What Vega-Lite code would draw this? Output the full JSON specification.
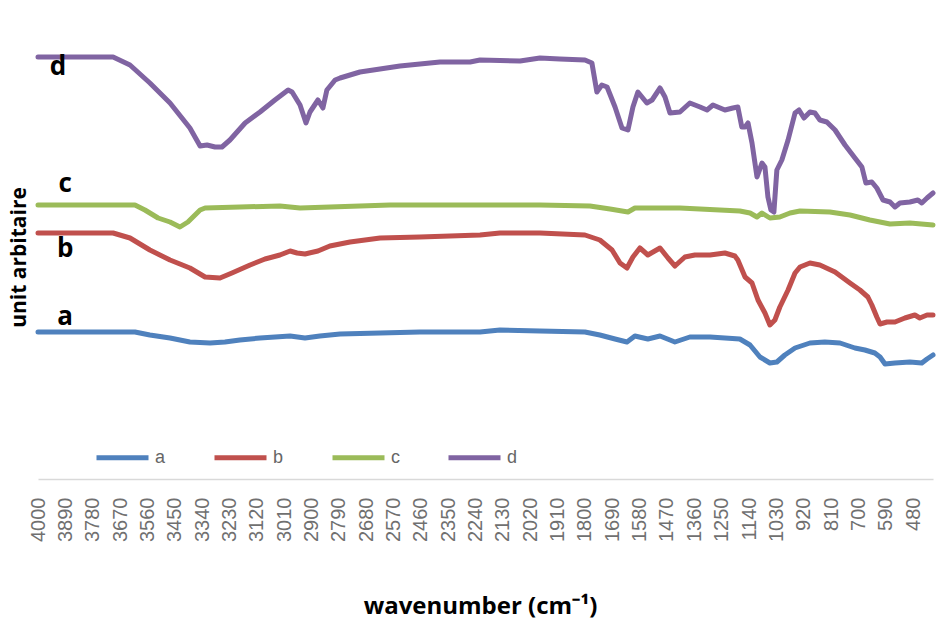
{
  "$schema": "https://vega.github.io/schema/vega-lite/v6.json",
  "autosize": {"type": "none"},
  "padding": {"left": 38, "top": 10, "right": 17, "bottom": 142},
  "width": 895,
  "height": 469,
  "background": "white",
  "config": {"view": {"stroke": null}, "axis": {"labelOverlap": false}},
  "datasets": {
    "spectra": [
      {"s":"d","wn":4000,"v":422},{"s":"d","wn":3698,"v":422},{"s":"d","wn":3630,"v":414},{"s":"d","wn":3550,"v":396},{"s":"d","wn":3469,"v":376},{"s":"d","wn":3389,"v":351},{"s":"d","wn":3348,"v":333},{"s":"d","wn":3320,"v":334},{"s":"d","wn":3288,"v":332},{"s":"d","wn":3260,"v":332},{"s":"d","wn":3228,"v":339},{"s":"d","wn":3167,"v":356},{"s":"d","wn":3107,"v":367},{"s":"d","wn":3047,"v":379},{"s":"d","wn":2994,"v":389},{"s":"d","wn":2978,"v":387},{"s":"d","wn":2946,"v":374},{"s":"d","wn":2922,"v":356},{"s":"d","wn":2906,"v":367},{"s":"d","wn":2874,"v":379},{"s":"d","wn":2854,"v":371},{"s":"d","wn":2838,"v":389},{"s":"d","wn":2805,"v":399},{"s":"d","wn":2785,"v":401},{"s":"d","wn":2705,"v":407},{"s":"d","wn":2544,"v":413},{"s":"d","wn":2383,"v":417},{"s":"d","wn":2262,"v":417},{"s":"d","wn":2222,"v":419},{"s":"d","wn":2061,"v":418},{"s":"d","wn":1981,"v":421},{"s":"d","wn":1901,"v":420},{"s":"d","wn":1800,"v":419},{"s":"d","wn":1772,"v":416},{"s":"d","wn":1752,"v":387},{"s":"d","wn":1732,"v":394},{"s":"d","wn":1711,"v":392},{"s":"d","wn":1679,"v":372},{"s":"d","wn":1651,"v":351},{"s":"d","wn":1627,"v":349},{"s":"d","wn":1607,"v":372},{"s":"d","wn":1587,"v":387},{"s":"d","wn":1551,"v":376},{"s":"d","wn":1530,"v":379},{"s":"d","wn":1498,"v":391},{"s":"d","wn":1478,"v":382},{"s":"d","wn":1458,"v":366},{"s":"d","wn":1418,"v":367},{"s":"d","wn":1378,"v":376},{"s":"d","wn":1337,"v":372},{"s":"d","wn":1309,"v":369},{"s":"d","wn":1285,"v":374},{"s":"d","wn":1237,"v":369},{"s":"d","wn":1205,"v":371},{"s":"d","wn":1185,"v":372},{"s":"d","wn":1169,"v":352},{"s":"d","wn":1156,"v":352},{"s":"d","wn":1144,"v":356},{"s":"d","wn":1128,"v":336},{"s":"d","wn":1108,"v":302},{"s":"d","wn":1088,"v":316},{"s":"d","wn":1076,"v":312},{"s":"d","wn":1064,"v":282},{"s":"d","wn":1052,"v":269},{"s":"d","wn":1040,"v":267},{"s":"d","wn":1028,"v":309},{"s":"d","wn":1008,"v":319},{"s":"d","wn":983,"v":339},{"s":"d","wn":955,"v":366},{"s":"d","wn":939,"v":369},{"s":"d","wn":919,"v":361},{"s":"d","wn":895,"v":367},{"s":"d","wn":875,"v":366},{"s":"d","wn":855,"v":359},{"s":"d","wn":827,"v":357},{"s":"d","wn":794,"v":349},{"s":"d","wn":754,"v":334},{"s":"d","wn":714,"v":321},{"s":"d","wn":686,"v":312},{"s":"d","wn":670,"v":296},{"s":"d","wn":646,"v":297},{"s":"d","wn":626,"v":291},{"s":"d","wn":601,"v":279},{"s":"d","wn":573,"v":277},{"s":"d","wn":553,"v":272},{"s":"d","wn":533,"v":276},{"s":"d","wn":493,"v":277},{"s":"d","wn":461,"v":279},{"s":"d","wn":445,"v":276},{"s":"d","wn":424,"v":281},{"s":"d","wn":400,"v":286},
      {"s":"c","wn":4000,"v":274},{"s":"c","wn":3610,"v":274},{"s":"c","wn":3570,"v":269},{"s":"c","wn":3517,"v":261},{"s":"c","wn":3469,"v":257},{"s":"c","wn":3429,"v":252},{"s":"c","wn":3397,"v":257},{"s":"c","wn":3348,"v":269},{"s":"c","wn":3328,"v":271},{"s":"c","wn":3188,"v":272},{"s":"c","wn":3027,"v":273},{"s":"c","wn":2946,"v":271},{"s":"c","wn":2826,"v":272},{"s":"c","wn":2584,"v":274},{"s":"c","wn":2222,"v":274},{"s":"c","wn":1981,"v":274},{"s":"c","wn":1780,"v":273},{"s":"c","wn":1699,"v":270},{"s":"c","wn":1627,"v":267},{"s":"c","wn":1599,"v":271},{"s":"c","wn":1418,"v":271},{"s":"c","wn":1177,"v":268},{"s":"c","wn":1136,"v":266},{"s":"c","wn":1108,"v":262},{"s":"c","wn":1088,"v":266},{"s":"c","wn":1056,"v":261},{"s":"c","wn":1016,"v":262},{"s":"c","wn":975,"v":266},{"s":"c","wn":935,"v":268},{"s":"c","wn":815,"v":267},{"s":"c","wn":734,"v":264},{"s":"c","wn":654,"v":259},{"s":"c","wn":573,"v":255},{"s":"c","wn":493,"v":256},{"s":"c","wn":400,"v":254},
      {"s":"b","wn":4000,"v":246},{"s":"b","wn":3698,"v":246},{"s":"b","wn":3630,"v":241},{"s":"b","wn":3550,"v":229},{"s":"b","wn":3469,"v":219},{"s":"b","wn":3389,"v":211},{"s":"b","wn":3328,"v":202},{"s":"b","wn":3268,"v":201},{"s":"b","wn":3220,"v":206},{"s":"b","wn":3147,"v":214},{"s":"b","wn":3087,"v":220},{"s":"b","wn":3027,"v":224},{"s":"b","wn":2986,"v":228},{"s":"b","wn":2958,"v":226},{"s":"b","wn":2926,"v":225},{"s":"b","wn":2874,"v":228},{"s":"b","wn":2826,"v":233},{"s":"b","wn":2745,"v":237},{"s":"b","wn":2624,"v":241},{"s":"b","wn":2464,"v":242},{"s":"b","wn":2222,"v":244},{"s":"b","wn":2142,"v":246},{"s":"b","wn":1981,"v":246},{"s":"b","wn":1800,"v":244},{"s":"b","wn":1740,"v":239},{"s":"b","wn":1691,"v":229},{"s":"b","wn":1659,"v":216},{"s":"b","wn":1631,"v":211},{"s":"b","wn":1607,"v":222},{"s":"b","wn":1579,"v":231},{"s":"b","wn":1547,"v":224},{"s":"b","wn":1498,"v":231},{"s":"b","wn":1466,"v":221},{"s":"b","wn":1438,"v":213},{"s":"b","wn":1398,"v":222},{"s":"b","wn":1358,"v":224},{"s":"b","wn":1297,"v":224},{"s":"b","wn":1237,"v":226},{"s":"b","wn":1197,"v":223},{"s":"b","wn":1185,"v":219},{"s":"b","wn":1156,"v":202},{"s":"b","wn":1128,"v":196},{"s":"b","wn":1104,"v":179},{"s":"b","wn":1076,"v":166},{"s":"b","wn":1056,"v":154},{"s":"b","wn":1036,"v":159},{"s":"b","wn":1016,"v":172},{"s":"b","wn":983,"v":189},{"s":"b","wn":955,"v":206},{"s":"b","wn":935,"v":212},{"s":"b","wn":895,"v":216},{"s":"b","wn":855,"v":214},{"s":"b","wn":794,"v":207},{"s":"b","wn":734,"v":196},{"s":"b","wn":694,"v":189},{"s":"b","wn":662,"v":182},{"s":"b","wn":646,"v":174},{"s":"b","wn":626,"v":162},{"s":"b","wn":613,"v":155},{"s":"b","wn":585,"v":157},{"s":"b","wn":553,"v":157},{"s":"b","wn":513,"v":161},{"s":"b","wn":473,"v":164},{"s":"b","wn":453,"v":161},{"s":"b","wn":424,"v":164},{"s":"b","wn":400,"v":164},
      {"s":"a","wn":4000,"v":147},{"s":"a","wn":3610,"v":147},{"s":"a","wn":3550,"v":144},{"s":"a","wn":3469,"v":141},{"s":"a","wn":3389,"v":137},{"s":"a","wn":3308,"v":136},{"s":"a","wn":3248,"v":137},{"s":"a","wn":3188,"v":139},{"s":"a","wn":3107,"v":141},{"s":"a","wn":2986,"v":143},{"s":"a","wn":2926,"v":141},{"s":"a","wn":2866,"v":143},{"s":"a","wn":2785,"v":145},{"s":"a","wn":2624,"v":146},{"s":"a","wn":2464,"v":147},{"s":"a","wn":2222,"v":147},{"s":"a","wn":2142,"v":149},{"s":"a","wn":1981,"v":148},{"s":"a","wn":1800,"v":147},{"s":"a","wn":1740,"v":144},{"s":"a","wn":1679,"v":140},{"s":"a","wn":1631,"v":137},{"s":"a","wn":1599,"v":143},{"s":"a","wn":1547,"v":140},{"s":"a","wn":1498,"v":143},{"s":"a","wn":1438,"v":137},{"s":"a","wn":1378,"v":142},{"s":"a","wn":1297,"v":142},{"s":"a","wn":1177,"v":140},{"s":"a","wn":1136,"v":134},{"s":"a","wn":1096,"v":122},{"s":"a","wn":1056,"v":116},{"s":"a","wn":1028,"v":117},{"s":"a","wn":996,"v":124},{"s":"a","wn":955,"v":131},{"s":"a","wn":895,"v":136},{"s":"a","wn":835,"v":137},{"s":"a","wn":774,"v":136},{"s":"a","wn":714,"v":131},{"s":"a","wn":674,"v":129},{"s":"a","wn":634,"v":126},{"s":"a","wn":613,"v":122},{"s":"a","wn":593,"v":115},{"s":"a","wn":553,"v":116},{"s":"a","wn":493,"v":117},{"s":"a","wn":445,"v":116},{"s":"a","wn":424,"v":120},{"s":"a","wn":400,"v":124}
    ],
    "labels": [
      {"lbl":"d","wn":3920,"v":404},
      {"lbl":"c","wn":3891,"v":287},
      {"lbl":"b","wn":3891,"v":222},
      {"lbl":"a","wn":3891,"v":154}
    ]
  },
  "encoding": {
    "x": {
      "field": "wn", "type": "quantitative",
      "scale": {"domain": [400, 4000], "reverse": true, "nice": false, "zero": false},
      "axis": {
        "values": [4000,3890,3780,3670,3560,3450,3340,3230,3120,3010,2900,2790,2680,2570,2460,2350,2240,2130,2020,1910,1800,1690,1580,1470,1360,1250,1140,1030,920,810,700,590,480],
        "format": "d",
        "grid": false,
        "ticks": false,
        "tickSize": 0,
        "domainColor": "#d9d9d9",
        "domainWidth": 1.5,
        "labelAngle": 270,
        "labelAlign": "right",
        "labelBaseline": "middle",
        "labelPadding": 18,
        "labelFont": "Liberation Sans",
        "labelFontSize": 20,
        "labelColor": "#707070",
        "labelOverlap": false,
        "labelFlush": false,
        "labelBound": false,
        "title": "wavenumber (cm⁻¹)",
        "titleFont": "Open Sans",
        "titleFontSize": 24,
        "titleFontWeight": "bold",
        "titleColor": "#000000",
        "titleX": 442,
        "titleY": 134,
        "titleAlign": "center",
        "titleBaseline": "alphabetic"
      }
    },
    "y": {
      "field": "v", "type": "quantitative",
      "scale": {"domain": [0, 469], "nice": false, "zero": false},
      "axis": {
        "domain": false, "ticks": false, "labels": false, "grid": false,
        "title": "unit arbitaire",
        "titleFont": "Open Sans",
        "titleFontSize": 21,
        "titleFontWeight": "bold",
        "titleColor": "#000000",
        "titleAngle": 270,
        "titleX": -19,
        "titleY": 247,
        "titleAlign": "center",
        "titleBaseline": "middle"
      }
    }
  },
  "layer": [
    {
      "data": {"name": "spectra"},
      "mark": {"type": "line", "strokeWidth": 5, "strokeCap": "round", "strokeJoin": "round"},
      "encoding": {
        "color": {
          "field": "s", "type": "nominal",
          "scale": {"domain": ["a","b","c","d"], "range": ["#4F81BD","#C0504D","#9BBB59","#8064A2"]},
          "legend": {
            "title": null,
            "orient": "none",
            "direction": "horizontal",
            "legendX": 56,
            "legendY": 419,
            "padding": 0,
            "symbolType": "stroke",
            "symbolSize": 2704,
            "symbolStrokeWidth": 5,
            "labelFont": "Liberation Sans",
            "labelFontSize": 18,
            "labelColor": "#666666",
            "labelOffset": 4,
            "columnPadding": 38
          }
        }
      }
    },
    {
      "data": {"name": "labels"},
      "mark": {"type": "text", "font": "Open Sans", "fontSize": 26, "fontWeight": "bold", "color": "#000000", "align": "center", "baseline": "alphabetic"},
      "encoding": {
        "text": {"field": "lbl"}
      }
    }
  ]
}
